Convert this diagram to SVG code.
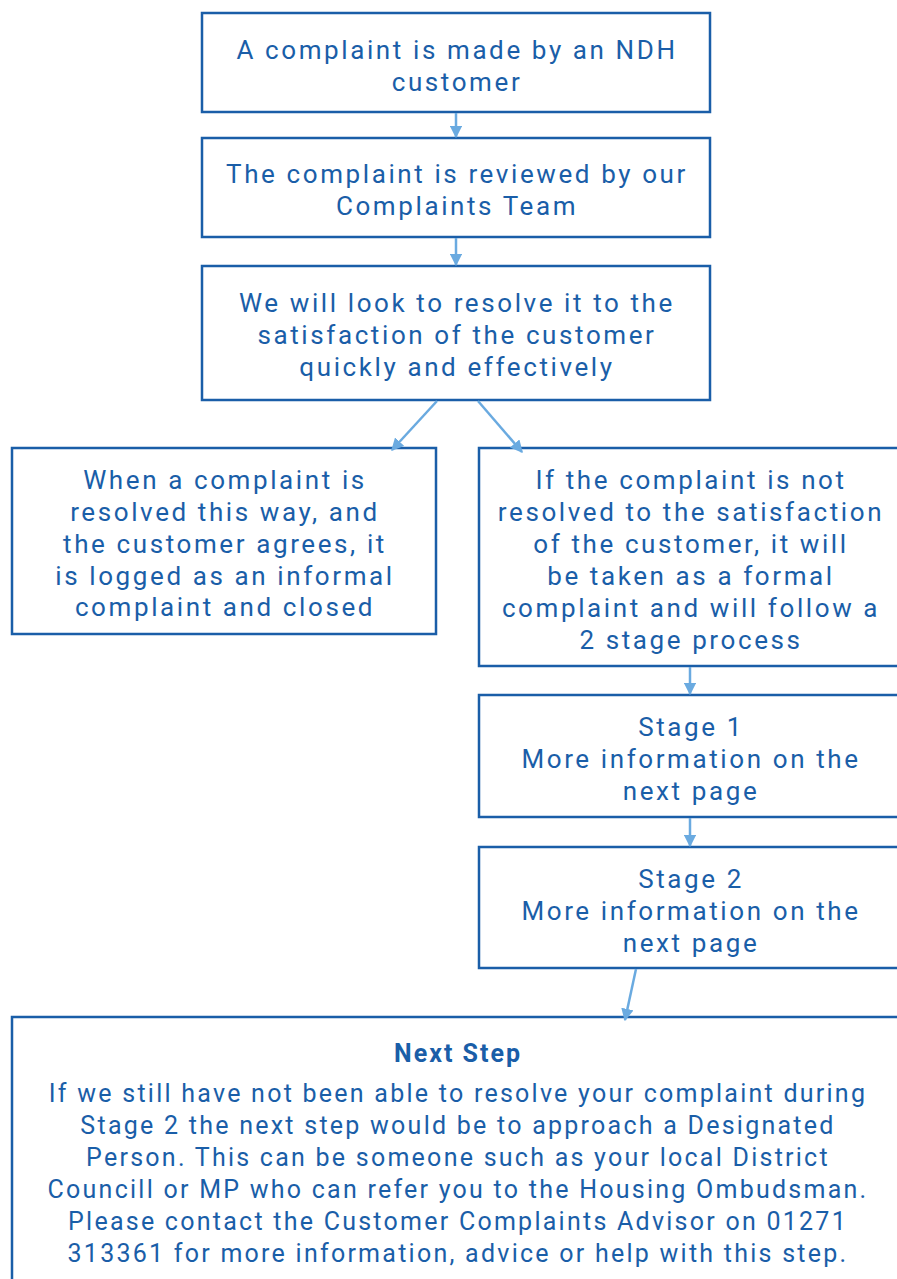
<svg xmlns="http://www.w3.org/2000/svg" width="897" height="1279" viewBox="0 0 897 1279">
<defs>
<style>
.box{fill:#ffffff;stroke:#1a5ea8;stroke-width:2.5}
.t{font-family:Roboto,"Liberation Sans",sans-serif;font-size:26px;fill:#1a5ea8;text-anchor:middle;letter-spacing:2.6px}
.n{font-family:Roboto,"Liberation Sans",sans-serif;font-size:25px;fill:#1a5ea8;text-anchor:middle;letter-spacing:2.25px}
.h{font-family:Roboto,"Liberation Sans",sans-serif;font-size:25px;font-weight:bold;fill:#1a5ea8;text-anchor:middle;letter-spacing:2px}
.c{stroke:#6aaae0;stroke-width:2.5;fill:none;marker-end:url(#ah)}
</style>
<marker id="ah" viewBox="0 0 10 10" refX="9" refY="5" markerWidth="5" markerHeight="5" orient="auto" markerUnits="strokeWidth">
<path d="M0,0 L10,5 L0,10 z" fill="#6aaae0"/>
</marker>
</defs>
<rect width="897" height="1279" fill="#ffffff"/>
<g id="n1"><rect class="box" x="202" y="13" width="508" height="99"/>
<text class="t" x="457" y="59">A complaint is made by an NDH</text>
<text class="t" x="457" y="91">customer</text></g>
<g id="n2"><rect class="box" x="202" y="138" width="508" height="99"/>
<text class="t" x="457" y="183">The complaint is reviewed by our</text>
<text class="t" x="457" y="215">Complaints Team</text></g>
<g id="n3"><rect class="box" x="202" y="266" width="508" height="134"/>
<text class="t" x="457" y="312">We will look to resolve it to the</text>
<text class="t" x="457" y="344">satisfaction of the customer</text>
<text class="t" x="457" y="376">quickly and effectively</text></g>
<g id="n4"><rect class="box" x="12" y="448" width="424" height="186"/>
<text class="t" x="225" y="489">When a complaint is</text>
<text class="t" x="225" y="521">resolved this way, and</text>
<text class="t" x="225" y="553">the customer agrees, it</text>
<text class="t" x="225" y="585">is logged as an informal</text>
<text class="t" x="225" y="616">complaint and closed</text></g>
<g id="n5"><rect class="box" x="479" y="448" width="430" height="218"/>
<text class="t" x="691" y="489">If the complaint is not</text>
<text class="t" x="691" y="521">resolved to the satisfaction</text>
<text class="t" x="691" y="553">of the customer, it will</text>
<text class="t" x="691" y="585">be taken as a formal</text>
<text class="t" x="691" y="617">complaint and will follow a</text>
<text class="t" x="691" y="649">2 stage process</text></g>
<g id="n6"><rect class="box" x="479" y="695" width="430" height="122"/>
<text class="t" x="691" y="736">Stage 1</text>
<text class="t" x="691" y="768">More information on the</text>
<text class="t" x="691" y="800">next page</text></g>
<g id="n7"><rect class="box" x="479" y="847" width="430" height="121"/>
<text class="t" x="691" y="888">Stage 2</text>
<text class="t" x="691" y="920">More information on the</text>
<text class="t" x="691" y="952">next page</text></g>
<g id="n8"><rect class="box" x="12" y="1017" width="897" height="280"/>
<text class="h" x="458" y="1062">Next Step</text>
<text class="n" x="458" y="1102">If we still have not been able to resolve your complaint during</text>
<text class="n" x="458" y="1134">Stage 2 the next step would be to approach a Designated</text>
<text class="n" x="458" y="1166">Person. This can be someone such as your local District</text>
<text class="n" x="458" y="1198">Councill or MP who can refer you to the Housing Ombudsman.</text>
<text class="n" x="458" y="1230">Please contact the Customer Complaints Advisor on 01271</text>
<text class="n" x="458" y="1262">313361 for more information, advice or help with this step.</text></g>
<g id="connectors">
<line class="c" x1="456" y1="113" x2="456" y2="137"/>
<line class="c" x1="456" y1="238" x2="456" y2="265"/>
<line class="c" x1="437" y1="401" x2="392" y2="450"/>
<line class="c" x1="478" y1="401" x2="522" y2="452"/>
<line class="c" x1="690" y1="667" x2="690" y2="694"/>
<line class="c" x1="690" y1="818" x2="690" y2="846"/>
<line class="c" x1="636" y1="969" x2="625" y2="1020"/>
</g>
</svg>
